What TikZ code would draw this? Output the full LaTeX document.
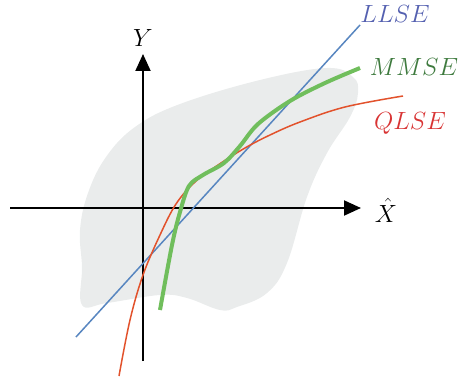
\documentclass[tikz,border=0pt]{standalone}
\usepackage{amsmath}
\usepackage{tikz}
\usetikzlibrary{arrows.meta}

\definecolor{blobgray}{RGB}{234,236,236}
\definecolor{llseline}{RGB}{88,134,192}
\definecolor{llsetext}{RGB}{84,96,176}
\definecolor{mmseline}{RGB}{112,190,92}
\definecolor{mmsetext}{RGB}{62,122,62}
\definecolor{qlseline}{RGB}{226,82,44}
\definecolor{qlsetext}{RGB}{216,52,52}

\begin{document}
\begin{tikzpicture}[x=1pt, y=-1pt,
    every node/.style={font=\fontsize{24}{28}\selectfont},
    ax/.style={line width=2pt, -{Triangle[length=17pt, width=15pt]}},
    lbl/.style={inner sep=1pt},
  ]
  \useasboundingbox (0,0) rectangle (463,377);
  \fill[blobgray] plot[smooth cycle, tension=0.65] coordinates {
    (82,305) (82,267) (80,230) (88,193) (106,157) (135,127) (180,104)
    (260,80) (327,68) (353,77) (358,93) (350,117) (327,153) (307,197)
    (287,263) (267,293) (237,307) (220,310) (187,298) (160,295) (107,303)};
  \coordinate (xl) at (10,208);
  \coordinate (xr) at (361,208);
  \coordinate (yb) at (143,361);
  \coordinate (yt) at (143,54);
  \draw[ax] (xl) -- (xr);
  \draw[ax] (yb) -- (yt);
  \node[lbl, anchor=base] (ylab) at (143,47) {$Y$};
  \node[lbl, anchor=base] (xlab) at (386,222) {$\hat{X}$};
  \coordinate (l0) at (76,337);
  \coordinate (l1) at (360,25);
  \draw[llseline, line width=1.5pt] (l0) -- (l1);
  \draw[qlseline, line width=1.5pt] plot[smooth, tension=0.6] coordinates {
    (119,376) (130,320) (143,275) (160,235) (176,204) (195,182) (218,165)
    (245,148) (270,135) (300,122) (345,107) (403,96)};
  \draw[mmseline, line width=4pt] plot[smooth, tension=0.55] coordinates {
    (160,310) (172,245) (180,212) (189,186) (203,175) (224,163)
    (240,146) (258,124) (290,101) (325,83) (360,68)};
  \node[lbl, text=llsetext, anchor=base] (llse) at (395,23) {$LLSE$};
  \node[lbl, text=mmsetext, anchor=base] (mmse) at (414,76) {$MMSE$};
  \node[lbl, text=qlsetext, anchor=base] (qlse) at (410,130) {$QLSE$};
\end{tikzpicture}
\end{document}
